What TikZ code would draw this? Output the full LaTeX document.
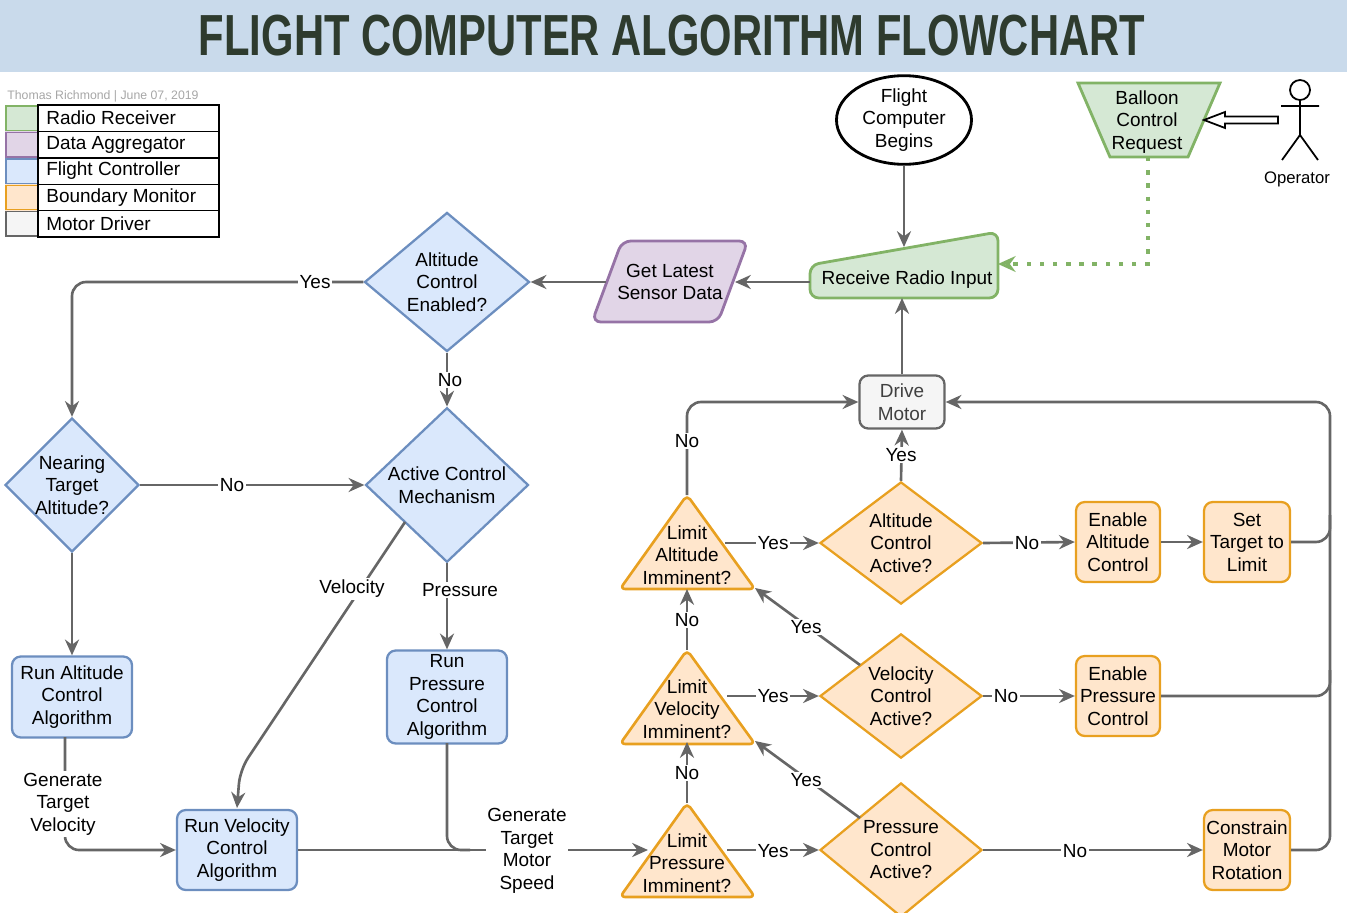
\documentclass[tikz,border=0pt]{standalone}
\usepackage{fontspec}
\setmainfont{Liberation Sans}
\usetikzlibrary{shapes.geometric,arrows.meta}
\definecolor{gfill}{HTML}{D5E8D4}\definecolor{gline}{HTML}{82B366}
\definecolor{pfill}{HTML}{E1D5E7}\definecolor{pline}{HTML}{9673A6}
\definecolor{bfill}{HTML}{DAE8FC}\definecolor{bline}{HTML}{6C8EBF}
\definecolor{ofill}{HTML}{FFE6CC}\definecolor{oline}{HTML}{E8A020}
\definecolor{mfill}{HTML}{F5F5F5}\definecolor{mline}{HTML}{666666}
\definecolor{arr}{HTML}{666666}\definecolor{titlebg}{HTML}{C9DAEB}\definecolor{titlefg}{HTML}{2E3B2E}
\begin{document}
\begin{tikzpicture}[x=0.02cm,y=-0.02cm,
  every node/.style={font=\fontsize{10.8}{12.8}\selectfont, align=center},
  bx/.style={draw, line width=1.3pt, rounded corners=5pt, inner sep=1pt},
  blue/.style={bx, fill=bfill, draw=bline},
  org/.style={bx, fill=ofill, draw=oline},
  dia/.style={diamond, draw, line width=1.3pt, inner sep=0pt},
  bdia/.style={dia, fill=bfill, draw=bline},
  odia/.style={dia, fill=ofill, draw=oline},
  ar/.style={draw=arr, line width=1.5pt, -{Stealth[length=9pt,width=8pt]}, rounded corners=8pt},
  ln/.style={draw=arr, line width=1.5pt, rounded corners=8pt},
  lab/.style={fill=white, inner sep=1pt}]
\useasboundingbox (0,0) rectangle (1347,913);
\fill[titlebg] (0,0) rectangle (1347,72);
\node[text=titlefg] (title) at (672,36) {\scalebox{0.72}[1]{\fontsize{33}{36}\selectfont\bfseries FLIGHT COMPUTER ALGORITHM FLOWCHART}};
% legend
\node[anchor=west, text=black!35, font=\fontsize{7}{8}\selectfont, inner sep=0] (auth) at (7,96) {Thomas Richmond | June 07, 2019};
\foreach \i/\t/\f/\l in {0/Radio Receiver/gfill/gline,1/Data Aggregator/pfill/pline,2/Flight Controller/bfill/bline,3/Boundary Monitor/ofill/oline,4/Motor Driver/mfill/mline}{
  \fill[\f] (5,105+26.4*\i) rectangle (38,131.4+26.4*\i);
  \draw[\l, line width=0.8pt] (6,106+26.4*\i) rectangle (38,130.4+26.4*\i);
  \draw[black, line width=0.8pt] (38,105+26.4*\i) rectangle (219,131.4+26.4*\i);
  \node[anchor=west, inner sep=0] (lg\i) at (46,118.2+26.4*\i) {\t};
}
% start
\node[ellipse, draw, line width=1.6pt, minimum width=135*0.02cm, minimum height=78*0.02cm, inner sep=0] (start) at (904,120) {Flight\\Computer\\Begins};
% receive radio input
\filldraw[fill=gfill, draw=gline, line width=1.6pt, rounded corners=5pt] (810,265) -- (998,232) -- (998,298) -- (810,298) -- cycle;
\node (recv) at (907,280) {Receive Radio Input};
\coordinate (recvT) at (904,247); \coordinate (recvB) at (902,298);
\coordinate (recvW) at (810,282); \coordinate (recvE) at (998,264);
% balloon
\filldraw[fill=gfill, draw=gline, line width=1.6pt] (1078,83) -- (1220,83) -- (1188,157) -- (1110,157) -- cycle;
\node (ball) at (1147,122) {Balloon\\Control\\Request};
\coordinate (ballB) at (1148,157);
% operator
\draw[line width=1pt] (1300,90) circle (10);
\draw[line width=1pt] (1300,100) -- (1300,135) (1281,106) -- (1319,106) (1282,160) -- (1300,135) -- (1318,160);
\node (op) at (1297,179) {\fontsize{9.5}{11}\selectfont Operator};
\draw[line width=1pt, fill=white] (1278,116.5) -- (1225,116.5) -- (1225,112) -- (1204,120) -- (1225,128) -- (1225,123.5) -- (1278,123.5) -- cycle;
% sensor
\filldraw[fill=pfill, draw=pline, line width=1.6pt, rounded corners=5pt] (622,241) -- (748,241) -- (718,322) -- (592,322) -- cycle;
\node (sens) at (670,282) {Get Latest\\Sensor Data};
% flight controller
\node[bdia, minimum width=165*0.02cm, minimum height=133*0.02cm] (alten) at (447,282) {Altitude\\Control\\Enabled?};
\node[bdia, minimum width=134*0.02cm, minimum height=134*0.02cm] (near) at (72,485) {Nearing\\Target\\Altitude?};
\node[bdia, minimum width=163*0.02cm, minimum height=148*0.02cm] (act) at (447,485) {Active Control\\Mechanism};
\node[blue, minimum width=120*0.02cm, minimum height=81*0.02cm] (ralt) at (72,697) {Run Altitude\\Control\\Algorithm};
\node[blue, minimum width=120*0.02cm, minimum height=93*0.02cm] (rpres) at (447,697) {Run\\Pressure\\Control\\Algorithm};
\node[blue, minimum width=120*0.02cm, minimum height=80*0.02cm] (rvel) at (237,850) {Run Velocity\\Control\\Algorithm};
% drive motor
\node[bx, fill=mfill, draw=mline, minimum width=85*0.02cm, minimum height=53*0.02cm, text=black!75] (drive) at (902,402) {Drive\\Motor};
% triangles
\foreach \n/\yt in {tA/495,tV/650,tP/803}{
  \filldraw[fill=ofill, draw=oline, line width=1.5pt, rounded corners=3pt, line join=round] (687,\yt) -- (755,\yt+94) -- (620,\yt+94) -- cycle;
}
\node (tAt) at (687,555) {Limit\\Altitude\\Imminent?};
\node (tVt) at (687,709) {Limit\\Velocity\\Imminent?};
\node (tPt) at (687,863) {Limit\\Pressure\\Imminent?};
\node[odia, minimum width=162*0.02cm, minimum height=122*0.02cm] (aact) at (901,543) {Altitude\\Control\\Active?};
\node[odia, minimum width=162*0.02cm, minimum height=122*0.02cm] (vact) at (901,696) {Velocity\\Control\\Active?};
\node[odia, minimum width=162*0.02cm, minimum height=122*0.02cm] (pact) at (901,850) {Pressure\\Control\\Active?};
\node[org, minimum width=84*0.02cm, minimum height=80*0.02cm] (enalt) at (1118,542) {Enable\\Altitude\\Control};
\node[org, minimum width=86*0.02cm, minimum height=80*0.02cm] (sett) at (1247,542) {Set\\Target to\\Limit};
\node[org, minimum width=84*0.02cm, minimum height=80*0.02cm] (enpres) at (1118,696) {Enable\\Pressure\\Control};
\node[org, minimum width=86*0.02cm, minimum height=80*0.02cm] (cons) at (1247,850) {Constrain\\Motor\\Rotation};
% connectors
\draw[ar] (start) -- (recvT);
\draw[draw=gline, line width=2pt, dash pattern=on 2.5pt off 5pt, -{Stealth[length=10pt,width=9pt,open]}] (ballB) -- (1148,264) -- (recvE);
\draw[ar] (recvW) -- (735,282);
\draw[ar] (606,282) -- (alten.east);
\draw[ar] (alten.west) -- (72,282) -- (near.north);
\node[lab] at (315,282) {Yes};
\draw[ar] (alten.south) -- (act.north);
\node[lab] at (450,380) {No};
\draw[ar] (near.east) -- (act.west);
\node[lab] at (232,485) {No};
\draw[ar] (near.south) -- (ralt.north);
\draw[ar] (405,522) -- (240,770) -- (237,808);
\node[lab] at (352,589) {Velocity};
\draw[ar] (act.south) -- (rpres.north);
\node[lab] at (460,590) {Pressure};
\draw[ar] (65,737) -- (65,850) -- (rvel.west);
\node[lab] at (63,804) {Generate\\Target\\Velocity};
\draw[ar] (rvel.east) -- (648,850);
\draw[ln] (447,743) -- (447,850) -- (470,850);
\node[lab] at (527,851) {Generate\\Target\\Motor\\Speed};
\draw[ar] (687,803) -- (687,742);
\node[lab] at (687,773) {No};
\draw[ar] (687,650) -- (687,589);
\node[lab] at (687,620) {No};
\draw[ar] (687,495) -- (687,402) -- (drive.west);
\node[lab] at (687,441) {No};
\draw[ar] (727,850) -- (pact.west);
\node[lab] at (773,851) {Yes};
\draw[ar] (727,696) -- (vact.west);
\node[lab] at (773,696) {Yes};
\draw[ar] (725,543) -- (aact.west);
\node[lab] at (773,543) {Yes};
\draw[ar] (860,818) -- (755,741);
\node[lab] at (806,780) {Yes};
\draw[ar] (860,665) -- (755,588);
\node[lab] at (806,627) {Yes};
\draw[ar] (aact.north) -- (drive.south);
\node[lab] at (901,455) {Yes};
\draw[ar] (aact.east) -- (enalt.west);
\node[lab] at (1027,543) {No};
\draw[ar] (enalt.east) -- (sett.west);
\draw[ar] (vact.east) -- (enpres.west);
\node[lab] at (1006,696) {No};
\draw[ar] (pact.east) -- (cons.west);
\node[lab] at (1075,851) {No};
\draw[ar] (cons.east) -- (1330,850) -- (1330,402) -- (drive.east);
\draw[ln] (sett.east) -- (1330,542) -- (1330,515);
\draw[ln] (enpres.east) -- (1330,696) -- (1330,670);
\draw[ar] (drive.north) -- (recvB);
\end{tikzpicture}
\end{document}
